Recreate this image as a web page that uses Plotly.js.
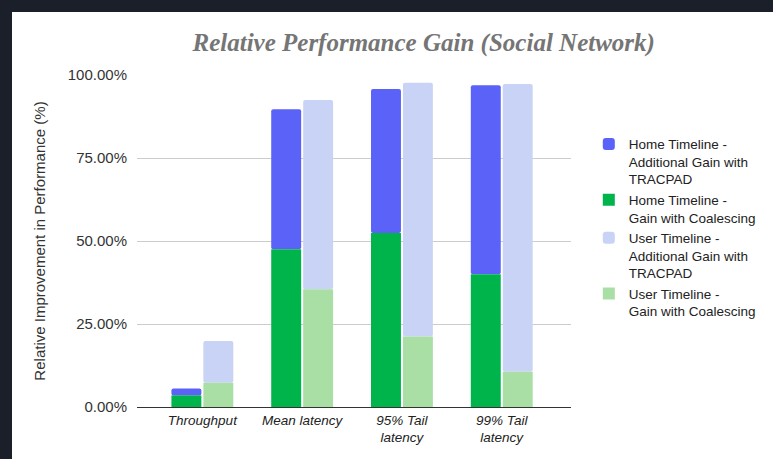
<!DOCTYPE html>
<html>
<head>
<meta charset="utf-8">
<script src="https://cdn.plot.ly/plotly-3.0.1.min.js"></script>
<style>
  html, body { margin: 0; padding: 0; width: 773px; height: 459px; background: #1b1f2a; overflow: hidden; }
  #chart { position: absolute; left: 12px; top: 12px; width: 761px; height: 447px; background: #ffffff; }
</style>
</head>
<body>
<div id="chart"></div>
<script>
// ---- data ----
const categories = ['Throughput', 'Mean latency', '95% Tail<br>latency', '99% Tail<br>latency'];
const homeCoalescing = [3.5, 47.5, 52.4, 40.0];
const homeAdditional = [2.1, 42.2, 43.4, 56.9];
const userCoalescing = [7.3, 35.5, 21.2, 10.6];
const userAdditional = [12.6, 57.0, 76.5, 86.7];
const seriesNames = [
  'Home Timeline -<br>Additional Gain with<br>TRACPAD',
  'Home Timeline -<br>Gain with Coalescing',
  'User Timeline -<br>Additional Gain with<br>TRACPAD',
  'User Timeline -<br>Gain with Coalescing'
];
const yTicks = [0, 25, 50, 75, 100];

const colors = ['#5a62f8', '#00b44c', '#c9d3f6', '#a9dfa5'];
const barW = 0.3;

const traces = [
  { type: 'bar', name: seriesNames[0], x: categories, y: homeAdditional, base: homeCoalescing,
    offset: -0.31, width: barW, marker: { color: colors[0], cornerradius: 2 } },
  { type: 'bar', name: seriesNames[1], x: categories, y: homeCoalescing,
    offset: -0.31, width: barW, marker: { color: colors[1] } },
  { type: 'bar', name: seriesNames[2], x: categories, y: userAdditional, base: userCoalescing,
    offset: 0.01, width: barW, marker: { color: colors[2], cornerradius: 2 } },
  { type: 'bar', name: seriesNames[3], x: categories, y: userCoalescing,
    offset: 0.01, width: barW, marker: { color: colors[3] } }
];

const layout = {
  width: 761, height: 447,
  paper_bgcolor: '#ffffff', plot_bgcolor: '#ffffff',
  barmode: 'overlay',
  margin: { l: 125, r: 198, t: 63, b: 52 },
  font: { family: 'Liberation Sans, Arial, sans-serif', color: '#333' },
  title: {
    text: 'Relative Performance Gain (Social Network)',
    font: { family: 'Liberation Serif, Times New Roman, serif', size: 25, color: '#757575', weight: 'bold', style: 'italic' },
    x: 0.541, xref: 'container', xanchor: 'center',
    y: 0.933, yref: 'container', yanchor: 'middle'
  },
  xaxis: {
    type: 'category',
    range: [-0.655, 3.694],
    showgrid: false, showline: false, zeroline: false,
    ticks: '',
    ticklabelstandoff: 3,
    tickfont: { size: 13.5, color: '#222', style: 'italic' },
    fixedrange: true
  },
  yaxis: {
    range: [0, 100],
    tickvals: yTicks,
    ticktext: yTicks.map(v => v.toFixed(2) + '%'),
    showgrid: true, gridcolor: '#cccccc', gridwidth: 1,
    zeroline: true, zerolinecolor: '#333333', zerolinewidth: 1,
    showline: false, ticks: '',
    ticklabelstandoff: 9,
    tickfont: { size: 15, color: '#333' },
    title: { text: 'Relative Improvement in Performance (%)', font: { size: 15, color: '#333' }, standoff: 18 },
    fixedrange: true
  },
  showlegend: true,
  legend: {
    x: 1.041, xanchor: 'left', y: 0.838, yanchor: 'top',
    valign: 'top',
    font: { size: 13.5, color: '#222' },
    bgcolor: 'rgba(0,0,0,0)',
    traceorder: 'normal'
  }
};

Plotly.newPlot('chart', traces, layout, { staticPlot: true, displayModeBar: false });
</script>
</body>
</html>
